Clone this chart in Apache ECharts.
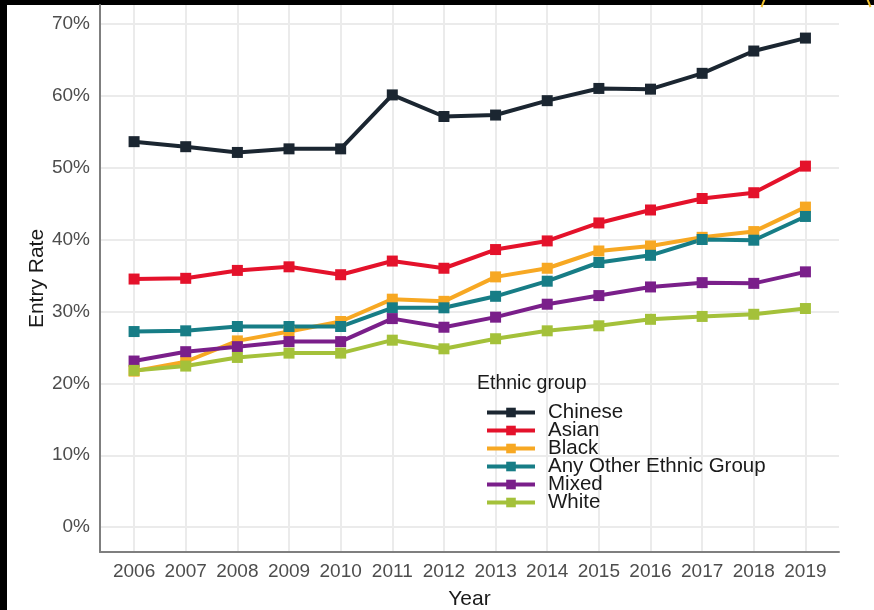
<!DOCTYPE html>
<html>
<head>
<meta charset="utf-8">
<script src="https://cdn.jsdelivr.net/npm/echarts@6/dist/echarts.min.js"></script>
<style>
  html, body { margin: 0; padding: 0; background: #000; }
  #paper { position: absolute; left: 7px; top: 5px; width: 867px; height: 605px; background: #fff; }
  #main { position: absolute; left: 0; top: 0; width: 874px; height: 610px; }
</style>
</head>
<body>
<div id="paper"></div>
<div id="main"></div>
<script>
// data
var years = [2006, 2007, 2008, 2009, 2010, 2011, 2012, 2013, 2014, 2015, 2016, 2017, 2018, 2019];
var yTicks = [0, 10, 20, 30, 40, 50, 60, 70];
var groupNames = ['Chinese', 'Asian', 'Black', 'Any Other Ethnic Group', 'Mixed', 'White'];
var chinese = [53.6, 52.9, 52.1, 52.6, 52.6, 60.1, 57.1, 57.3, 59.3, 61.0, 60.9, 63.1, 66.2, 68.0];
var asian   = [34.5, 34.6, 35.7, 36.2, 35.1, 37.0, 36.0, 38.6, 39.8, 42.3, 44.1, 45.7, 46.5, 50.2];
var black   = [21.7, 23.0, 25.9, 27.2, 28.6, 31.7, 31.4, 34.8, 36.0, 38.4, 39.1, 40.3, 41.1, 44.5];
var other   = [27.2, 27.3, 27.9, 27.9, 27.9, 30.5, 30.5, 32.1, 34.2, 36.8, 37.8, 40.0, 39.9, 43.2];
var mixed   = [23.1, 24.4, 25.1, 25.8, 25.8, 29.0, 27.8, 29.2, 31.0, 32.2, 33.4, 34.0, 33.9, 35.5];
var white   = [21.8, 22.4, 23.6, 24.2, 24.2, 26.0, 24.8, 26.2, 27.3, 28.0, 28.9, 29.3, 29.6, 30.4];

var groupValues = [chinese, asian, black, other, mixed, white];
var groupColors = ['#1b2631', '#e4122b', '#f7a823', '#177d86', '#7a1f8a', '#a4c13a'];

var font = '"Liberation Sans", Arial, sans-serif';
var myChart = echarts.init(document.getElementById('main'));

var series = groupNames.map(function (name, i) {
  return {
    name: name,
    type: 'line',
    data: years.map(function (y, j) { return [y, groupValues[i][j]]; }),
    symbol: 'rect',
    symbolSize: 11,
    color: groupColors[i],
    lineStyle: { width: 4 },
    emphasis: { disabled: true },
    animation: false
  };
});

myChart.setOption({
  textStyle: { fontFamily: font },
  title: {
    text: 'Ethnic group',
    left: 472,
    top: 369,
    textStyle: { fontSize: 19.5, fontWeight: 'normal', color: '#1a1a1a', fontFamily: font }
  },
  legend: {
    orient: 'vertical',
    left: 480,
    top: 397,
    itemWidth: 48,
    itemHeight: 12,
    itemGap: -3,
    lineStyle: { width: 4 },
    textStyle: { fontSize: 20.5, lineHeight: 18, color: '#1a1a1a', padding: [0, 0, 0, 8], fontFamily: font },
    data: groupNames
  },
  grid: { left: 100, right: 35, top: 5, bottom: 58, containLabel: false, outerBoundsMode: 'none' },
  xAxis: {
    type: 'value',
    min: 2005.34,
    max: 2019.65,
    name: 'Year',
    nameLocation: 'middle',
    nameGap: 37,
    nameMoveOverlap: false,
    nameTextStyle: { fontSize: 21, color: '#1a1a1a', fontFamily: font },
    axisLine: { show: true, onZero: false, lineStyle: { color: '#7f7f7f', width: 2 } },
    axisTick: { show: false, customValues: years },
    axisLabel: {
      customValues: years,
      formatter: function (v) { return String(v); },
      fontSize: 19, color: '#4d4d4d', margin: 10, fontFamily: font
    },
    splitLine: { show: true, lineStyle: { color: '#ebebeb', width: 2 } }
  },
  yAxis: {
    type: 'value',
    min: -3.45,
    max: 72.6,
    name: 'Entry Rate',
    nameLocation: 'middle',
    nameRotate: 90,
    nameGap: 52,
    nameMoveOverlap: false,
    nameTextStyle: { fontSize: 21, color: '#1a1a1a', fontFamily: font },
    axisLine: { show: true, onZero: false, lineStyle: { color: '#7f7f7f', width: 2 } },
    axisTick: { show: false, customValues: yTicks },
    axisLabel: {
      customValues: yTicks,
      formatter: function (v) { return v + '%'; },
      fontSize: 19, color: '#4d4d4d', margin: 10, fontFamily: font
    },
    splitLine: { show: true, lineStyle: { color: '#ebebeb', width: 2 } }
  },
  graphic: [
    { type: 'arc', shape: { cx: 816, cy: 24, r: 57, startAngle: Math.PI + 0.3, endAngle: Math.PI + 0.6 },
      style: { stroke: '#f2c12e', lineWidth: 2, fill: null } },
    { type: 'arc', shape: { cx: 816, cy: 24, r: 57, startAngle: 2 * Math.PI - 0.6, endAngle: 2 * Math.PI - 0.3 },
      style: { stroke: '#f2c12e', lineWidth: 2, fill: null } }
  ],
  series: series
});
</script>
</body>
</html>
